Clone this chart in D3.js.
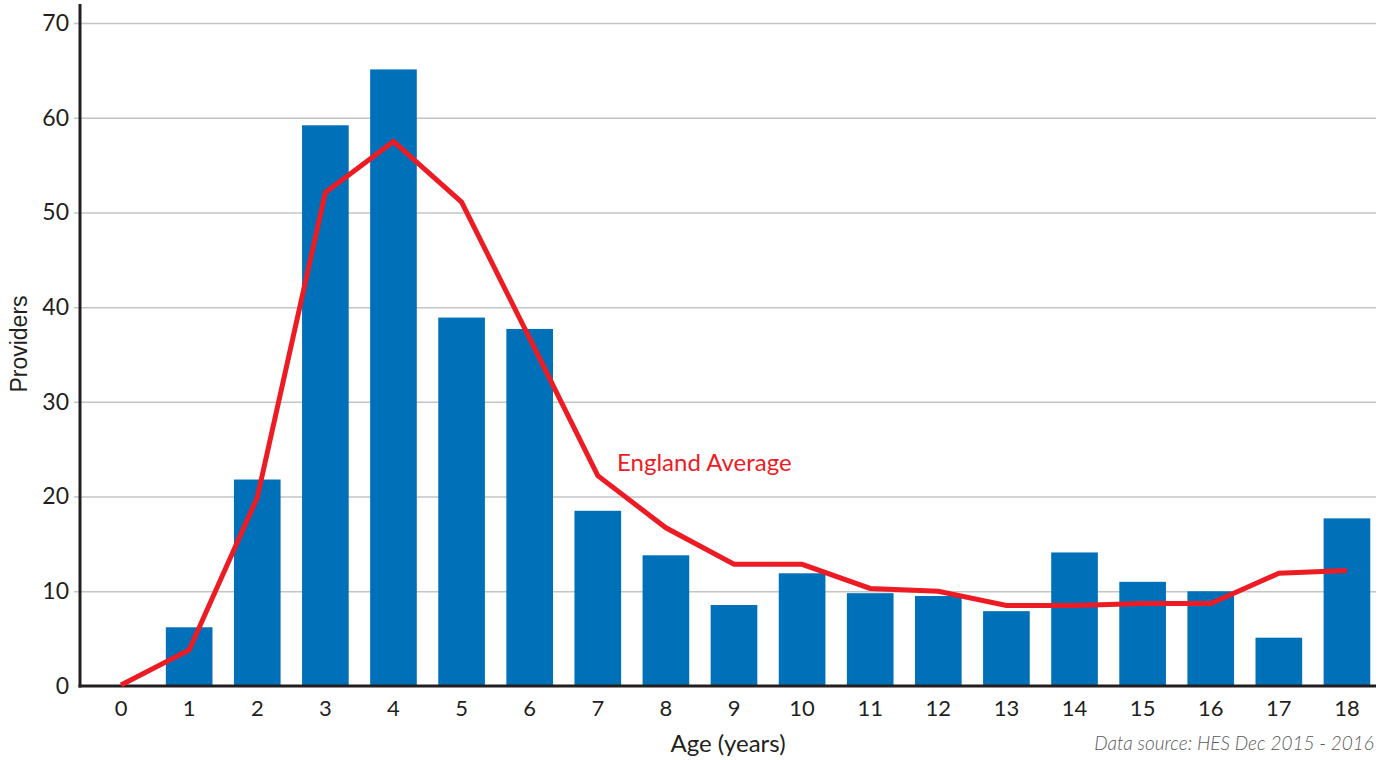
<!DOCTYPE html>
<html>
<head>
<meta charset="utf-8">
<script src="https://cdn.jsdelivr.net/npm/d3@7"></script>
<style>
  html, body { margin: 0; padding: 0; background: #ffffff; }
  svg { display: block; }
</style>
</head>
<body>
<svg id="chart" width="1394" height="760"></svg>
<script>
// ---- Data ----
const ages = ["0","1","2","3","4","5","6","7","8","9","10","11","12","13","14","15","16","17","18"];
const providers = [0, 6.2, 21.8, 59.2, 65.1, 38.9, 37.7, 18.5, 13.8, 8.55, 11.9, 9.8, 9.5, 7.9, 14.1, 11.0, 10.0, 5.1, 17.7];
const englandAverage = [0.1, 3.8, 19.9, 52.1, 57.5, 51.1, 36.7, 22.2, 16.7, 12.85, 12.85, 10.3, 10.0, 8.5, 8.5, 8.7, 8.7, 11.9, 12.2];
const yTicks = [0, 10, 20, 30, 40, 50, 60, 70];
const yTitle = "Providers";
const xTitle = "Age (years)";
const lineLabel = "England Average";
const sourceNote = "Data source: HES Dec 2015 - 2016";

// ---- Layout ----
const svg = d3.select("#chart");
const axisLeft = 80, axisRight = 1376, axisTop = 4, axisBottom = 686;
const x = d3.scaleBand().domain(ages).range([87, 1381]).paddingInner(0.315).paddingOuter(0.1575);
const y = d3.scaleLinear().domain([0, 70]).range([686, 23]);
const font = "Lato, 'Open Sans', sans-serif";

// gridlines + tick marks
const yAxis = d3.axisLeft(y).tickValues(yTicks).tickSize(-(axisRight - axisLeft)).tickSizeOuter(0).tickPadding(12);
const gy = svg.append("g").attr("transform", `translate(${axisLeft},0)`).call(yAxis);
gy.select(".domain").remove();
gy.selectAll(".tick line").attr("stroke", "#c4c4c6").attr("stroke-width", 1.5).attr("x1", -6);
gy.selectAll(".tick").filter(d => d === 0).select("line").remove();
gy.selectAll(".tick text").attr("font-family", font).attr("font-size", 23).attr("fill", "#231f20").attr("x", -11);

// bars
svg.append("g").selectAll("rect").data(providers).join("rect")
  .attr("x", (d, i) => x(ages[i]))
  .attr("y", d => y(d))
  .attr("width", x.bandwidth())
  .attr("height", d => y(0) - y(d))
  .attr("fill", "#0070b8");

// x axis
const xAxis = d3.axisBottom(x).tickSize(0).tickPadding(14);
const gx = svg.append("g").attr("transform", `translate(0,${axisBottom})`).call(xAxis);
gx.select(".domain").remove();
gx.selectAll(".tick text").attr("font-family", font).attr("font-size", 22).attr("fill", "#231f20");

// axis lines
svg.append("line").attr("x1", axisLeft).attr("x2", axisLeft).attr("y1", axisTop).attr("y2", axisBottom + 1.5)
  .attr("stroke", "#231f20").attr("stroke-width", 3);
svg.append("line").attr("x1", axisLeft - 1.5).attr("x2", axisRight).attr("y1", axisBottom).attr("y2", axisBottom)
  .attr("stroke", "#231f20").attr("stroke-width", 3);

// England average line
const line = d3.line().x((d, i) => x(ages[i]) + x.bandwidth() / 2).y(d => y(d));
svg.append("path").datum(englandAverage).attr("d", line)
  .attr("fill", "none").attr("stroke", "#ed1c24").attr("stroke-width", 5).attr("stroke-linejoin", "miter");

svg.append("text").attr("x", 617).attr("y", 471).text(lineLabel)
  .attr("font-family", font).attr("font-size", 24).attr("fill", "#ed1c24");

// titles
svg.append("text").attr("transform", "translate(27,344) rotate(-90)").attr("text-anchor", "middle")
  .text(yTitle).attr("font-family", "'Liberation Sans', Arial, sans-serif").attr("font-size", 23).attr("fill", "#231f20");
svg.append("text").attr("x", (axisLeft + axisRight) / 2).attr("y", 752).attr("text-anchor", "middle")
  .text(xTitle).attr("font-family", font).attr("font-size", 24).attr("fill", "#231f20");
svg.append("text").attr("x", 1374).attr("y", 750).attr("text-anchor", "end")
  .text(sourceNote).attr("font-family", font).attr("font-style", "italic").attr("font-weight", 300)
  .attr("font-size", 19).attr("fill", "#58595b");
</script>
</body>
</html>
